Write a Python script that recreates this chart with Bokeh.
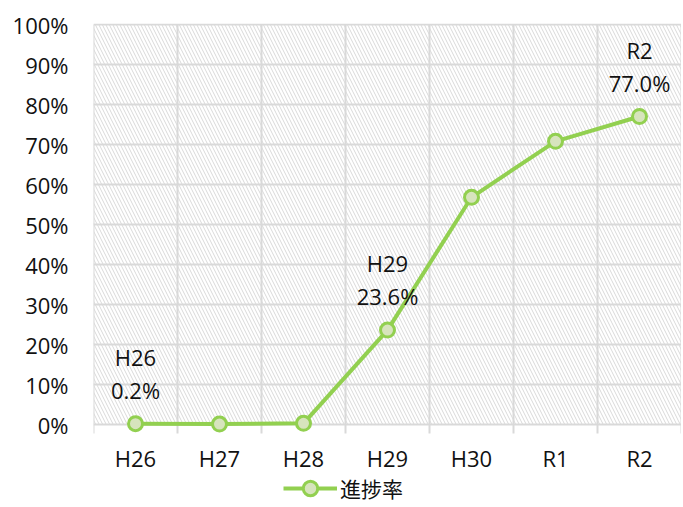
from bokeh.plotting import figure
from bokeh.models import FixedTicker, Legend, LegendItem, CustomJSTickFormatter
from bokeh.core.properties import value
from bokeh.embed import file_html
from bokeh.resources import INLINE

categories = ["H26", "H27", "H28", "H29", "H30", "R1", "R2"]
progress = [0.2, 0.1, 0.3, 23.6, 56.8, 70.8, 77.0]
label_idx = [0, 3, 6]
y_ticks = [0, 10, 20, 30, 40, 50, 60, 70, 80, 90, 100]
series_name = "進捗率"

LAT = "Open Sans"
JP = "Noto Sans CJK JP"
FS = "22px"
GREEN = "#92d050"
MFILL = "#d7e4bd"
GRID = "#d9d9d9"
TXT = "#111111"
TICK_LEN = 2.25  # category tick marks below the 0 line, in value units (4 px per %)

n = len(categories)
xs = list(range(n))
bounds = [i - 0.5 for i in range(n + 1)]

# frame extends to the bottom of the canvas so that the category labels and
# the legend can live inside it; the value scale keeps 4 px per percent
p = figure(frame_width=588, frame_height=483, output_backend="svg", toolbar_location=None,
           x_range=(-0.5, n - 0.5), y_range=(-20.5, 100.25), x_axis_location=None,
           min_border_left=93, min_border_right=0, min_border_top=23, min_border_bottom=0)
p.outline_line_color = None
p.background_fill_color = "white"
p.border_fill_color = "white"

# hatched plot area
bg = p.quad(left=[bounds[0]], right=[bounds[-1]], bottom=[y_ticks[0]], top=[y_ticks[-1]],
            fill_color="white", line_color=None,
            hatch_pattern="\\", hatch_color="#d9d9d9", hatch_scale=7, hatch_weight=1)
bg.level = "image"

# horizontal grid
p.xgrid.visible = False
p.ygrid.ticker = FixedTicker(ticks=y_ticks)
p.ygrid.grid_line_color = GRID
p.ygrid.grid_line_width = 2

# vertical category separators, running a little below 0 like tick marks
vg = p.segment(x0=bounds, y0=[y_ticks[0] - TICK_LEN] * len(bounds), x1=bounds,
               y1=[y_ticks[-1]] * len(bounds), line_color=GRID, line_width=2)
vg.level = "underlay"

# y axis
p.yaxis.ticker = FixedTicker(ticks=y_ticks)
p.yaxis.formatter = CustomJSTickFormatter(code="return tick.toFixed(0) + '%';")
p.yaxis.axis_line_color = None
p.yaxis.major_tick_line_color = None
p.yaxis.minor_tick_line_color = None
p.yaxis.major_tick_out = 0
p.yaxis.major_tick_in = 0
p.yaxis.major_label_text_font = LAT
p.yaxis.major_label_text_font_size = FS
p.yaxis.major_label_text_color = TXT
p.yaxis.major_label_standoff = 25

# category labels under the value 0 line
p.text(xs, [y_ticks[0]] * n, text=categories, text_align="center", text_baseline="middle",
       y_offset=33, text_font=value(LAT), text_font_size=FS, text_color=TXT)

# series
ln = p.line(xs, progress, line_color=GREEN, line_width=4)
sc = p.scatter(xs, progress, size=14, fill_color=MFILL, line_color=GREEN, line_width=3)

# data labels
lx = [xs[i] for i in label_idx]
ly = [progress[i] for i in label_idx]
lname = [categories[i] for i in label_idx]
lval = ["%.1f%%" % progress[i] for i in label_idx]
p.text(lx, ly, text=lname, text_align="center", text_baseline="middle", y_offset=-67,
       text_font=value(LAT), text_font_size=FS, text_color=TXT)
p.text(lx, ly, text=lval, text_align="center", text_baseline="middle", y_offset=-34,
       text_font=value(LAT), text_font_size=FS, text_color=TXT)

legend = Legend(items=[LegendItem(label=series_name, renderers=[ln, sc])],
                orientation="horizontal", location=(190, 0),
                border_line_color=None, background_fill_alpha=0,
                label_text_font=JP, label_text_font_size="21px", label_text_color=TXT,
                glyph_width=54, glyph_height=36, label_height=36, label_standoff=3,
                padding=0, margin=0, spacing=0)
p.add_layout(legend, "center")

open("out.html", "w").write(file_html(p, INLINE))
